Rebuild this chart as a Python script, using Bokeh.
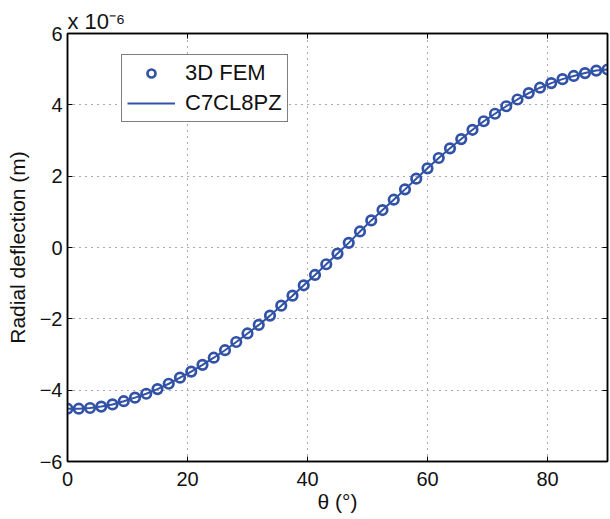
from bokeh.plotting import figure
from bokeh.models import (ColumnDataSource, FixedTicker, LinearAxis, Legend,
                          LegendItem, Range1d)
from bokeh.embed import file_html
from bokeh.resources import INLINE

# theta in degrees
theta = [i * 1.875 for i in range(49)]
# radial deflection, in units of 1e-6 m
fem = [-4.52, -4.52, -4.50, -4.46, -4.40, -4.31, -4.21, -4.10, -3.97, -3.82,
       -3.65, -3.48, -3.29, -3.09, -2.88, -2.65, -2.41, -2.17, -1.91, -1.63,
       -1.35, -1.06, -0.77, -0.47, -0.17, 0.13, 0.45, 0.76, 1.05, 1.34,
       1.63, 1.93, 2.22, 2.51, 2.78, 3.04, 3.30, 3.54, 3.75, 3.96,
       4.15, 4.33, 4.48, 4.61, 4.72, 4.81, 4.89, 4.96, 4.99]
c7cl8pz = list(fem)

x_ticks = [0, 20, 40, 60, 80]
y_ticks = [-6, -4, -2, 0, 2, 4, 6]
y_tick_labels = {t: (("\u2212" + str(-t)) if t < 0 else str(t)) for t in y_ticks}
scale_text = "x 10\u207b\u2076"

FONT = "Liberation Sans"
BLUE = "#3152a6"
TXT = "#111111"

src = ColumnDataSource(dict(x=theta, fem=fem, c7=c7cl8pz))

p = figure(width=609, height=518, output_backend="svg", toolbar_location=None,
           x_range=Range1d(0, 90), y_range=Range1d(-6, 6),
           min_border_left=67, min_border_right=2, min_border_top=33,
           min_border_bottom=57)
p.outline_line_color = "black"
p.outline_line_width = 1.5
p.background_fill_color = "white"
p.border_fill_color = "white"

p.title.text = scale_text
p.title.align = "left"
p.title.offset = 0
p.title.standoff = 0
p.title.text_font = FONT
p.title.text_font_size = "22px"
p.title.text_font_style = "normal"
p.title.text_color = TXT

for ax in (p.xaxis[0], p.yaxis[0]):
    ax.major_tick_in = 5
    ax.major_tick_out = 0
    ax.minor_tick_in = 0
    ax.minor_tick_out = 0
    ax.axis_line_color = "black"
    ax.axis_line_width = 1.5
    ax.major_tick_line_width = 1
    ax.major_label_text_font = FONT
    ax.major_label_text_font_size = "20px"
    ax.major_label_text_color = TXT
    ax.axis_label_text_font = FONT
    ax.axis_label_text_font_size = "21px"
    ax.axis_label_text_font_style = "normal"
    ax.axis_label_text_color = TXT

p.xaxis[0].ticker = FixedTicker(ticks=x_ticks)
p.yaxis[0].ticker = FixedTicker(ticks=y_ticks)
p.yaxis[0].major_label_overrides = y_tick_labels
p.xaxis[0].axis_label = "\u03b8 (\u00b0)"
p.yaxis[0].axis_label = "Radial deflection (m)"
p.xaxis[0].major_label_standoff = 10
p.yaxis[0].major_label_standoff = 5
p.xaxis[0].axis_label_standoff = 1
p.yaxis[0].axis_label_standoff = 8

# box axes on the top and right: inward ticks only, no labels
for loc, tk in (("right", y_ticks), ("above", x_ticks)):
    ax = LinearAxis(ticker=FixedTicker(ticks=tk))
    ax.major_tick_in = 5
    ax.major_tick_out = 0
    ax.minor_tick_in = 0
    ax.minor_tick_out = 0
    ax.major_label_overrides = {t: "" for t in tk}
    ax.major_label_text_font_size = "1px"
    ax.major_label_standoff = 0
    ax.axis_line_color = "black"
    ax.axis_line_width = 1.5
    p.add_layout(ax, loc)

p.xgrid[0].ticker = FixedTicker(ticks=x_ticks)
p.ygrid[0].ticker = FixedTicker(ticks=y_ticks)
p.grid.grid_line_color = "#555555"
p.grid.grid_line_dash = "1 5"
p.grid.grid_line_width = 1

r_line = p.line("x", "c7", source=src, line_color=BLUE, line_width=2)
r_pts = p.scatter("x", "fem", source=src, marker="circle", size=9.5,
                  fill_color=None, line_color=BLUE, line_width=2.7)

legend = Legend(items=[LegendItem(label="3D FEM", renderers=[r_pts]),
                       LegendItem(label="C7CL8PZ", renderers=[r_line])],
                location=(54, 339), orientation="vertical")
legend.label_text_font = FONT
legend.label_text_font_size = "22px"
legend.label_text_color = TXT
legend.glyph_width = 48
legend.glyph_height = 20
legend.label_height = 20
legend.spacing = 4
legend.padding = 5
legend.margin = 0
legend.label_standoff = 10
legend.border_line_color = "black"
legend.border_line_width = 1.5
legend.background_fill_alpha = 1
p.add_layout(legend, "center")

open("out.html", "w").write(file_html(p, INLINE))
